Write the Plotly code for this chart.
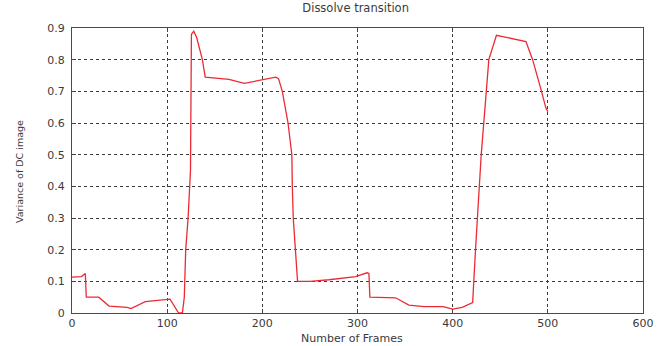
import plotly.graph_objects as go

# Variance of the DC image over the frame sequence (dissolve transitions)
frames = [0, 10, 14, 15, 28, 39, 58, 62, 77, 97, 103, 112, 116, 118, 119.5, 122,
          124.5, 125.5, 128, 131, 137, 140, 165, 181, 198, 214, 217, 221, 227,
          231, 231.5, 232.5, 237, 250, 270, 298, 310, 312, 313, 340, 354, 370,
          390, 400, 410, 421, 424, 428, 430, 438, 446, 477, 484, 493, 495.5,
          498, 500]
variance = [0.113, 0.115, 0.125, 0.05, 0.05, 0.022, 0.018, 0.014, 0.036, 0.042,
            0.044, 0.0, 0.0, 0.05, 0.2, 0.3, 0.45, 0.88, 0.89, 0.87, 0.80, 0.745,
            0.738, 0.725, 0.735, 0.745, 0.74, 0.70, 0.6, 0.5, 0.4, 0.3, 0.1, 0.1,
            0.105, 0.115, 0.127, 0.125, 0.05, 0.048, 0.025, 0.02, 0.02, 0.012,
            0.018, 0.033, 0.2, 0.4, 0.5, 0.8, 0.877, 0.857, 0.80, 0.704, 0.678,
            0.647, 0.636]

x_ticks = [0, 100, 200, 300, 400, 500, 600]
y_ticks = [0, 0.1, 0.2, 0.3, 0.4, 0.5, 0.6, 0.7, 0.8, 0.9]
y_tick_text = ["0", "0.1", "0.2", "0.3", "0.4", "0.5", "0.6", "0.7", "0.8", "0.9"]

FONT = "DejaVu Sans, Verdana, sans-serif"
TEXT_COLOR = "#3a3a3a"

fig = go.Figure()
fig.add_trace(go.Scatter(
    x=frames, y=variance, mode="lines",
    line=dict(color="#ec2a34", width=1.3),
    showlegend=False,
))

axis_common = dict(
    showline=True, linecolor="#4a4a4a", linewidth=1.2, mirror="ticks",
    ticks="inside", ticklen=4, tickcolor="#444444",
    showgrid=True, gridcolor="#3a3a3a", gridwidth=1, griddash="dot",
    zeroline=False, automargin=False,
    tickfont=dict(family=FONT, size=11, color=TEXT_COLOR),
)

fig.update_layout(
    width=671, height=346,
    margin=dict(l=72, r=28, t=28, b=33),
    paper_bgcolor="white", plot_bgcolor="white",
    title=dict(text="Dissolve transition", x=0.53, xanchor="center",
               y=0.988, yanchor="top",
               font=dict(family=FONT, size=11.5, color=TEXT_COLOR)),
    xaxis=dict(range=[0, 600], tickvals=x_ticks, ticklabelstandoff=0,
               **axis_common),
    yaxis=dict(range=[0, 0.9], tickvals=y_ticks, ticktext=y_tick_text,
               ticklabelstandoff=4, **axis_common),
    annotations=[
        dict(text="Number of Frames", xref="paper", yref="paper",
             x=0.49, y=-0.09, xanchor="center", yanchor="middle",
             showarrow=False, font=dict(family=FONT, size=11, color=TEXT_COLOR)),
        dict(text="Variance of DC image", xref="paper", yref="paper",
             x=-0.091, y=0.495, xanchor="center", yanchor="middle",
             textangle=-90, showarrow=False,
             font=dict(family=FONT, size=9.5, color=TEXT_COLOR)),
    ],
)

fig.write_html("out.html")
